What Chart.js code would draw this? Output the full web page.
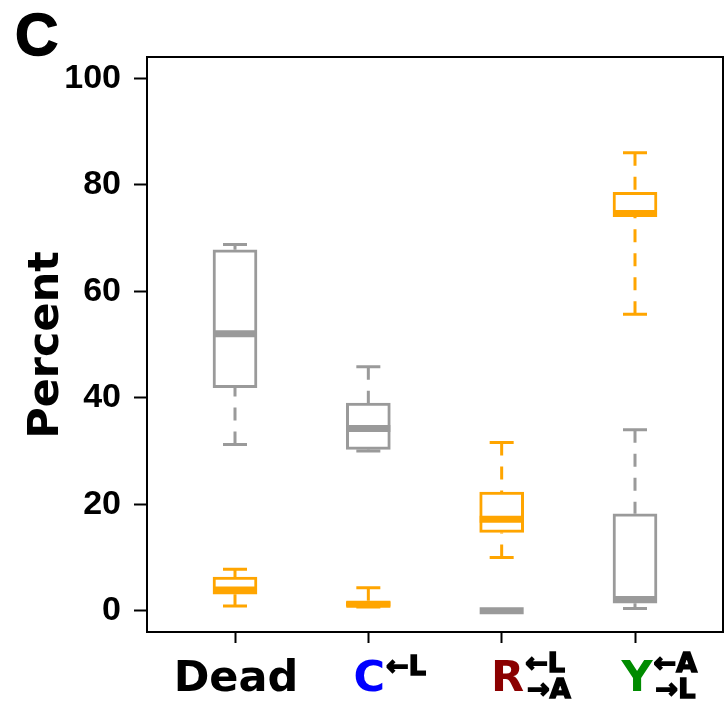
<!DOCTYPE html>
<html><head><meta charset="utf-8">
<script src="https://cdn.jsdelivr.net/npm/chart.js@4/dist/chart.umd.min.js"></script>
<style>html,body{margin:0;padding:0;background:#fff;} canvas{display:block;}</style>
</head><body>
<canvas id="c" width="725" height="707"></canvas>
<script>
// ---- data ----
const categories = ['Dead', 'C', 'R', 'Y'];
const categoryPositions = [1, 2, 3, 4];
const yTicks = [0, 20, 40, 60, 80, 100];

// gray series (five-number summaries)
const grayMin = [31.2, 30.0, 0.0, 0.4];
const grayQ1  = [41.9, 30.3, 0.0, 1.4];
const grayMed = [52.0, 34.2, 0.0, 2.1];
const grayQ3  = [67.8, 39.0, 0.0, 18.2];
const grayMax = [68.8, 45.8, 0.0, 34.0];

// orange series
const orangeMin = [0.9, 0.7, 10.0, 55.7];
const orangeQ1  = [3.1, 0.8, 14.7, 74.0];
const orangeMed = [3.9, 1.2, 17.2, 74.6];
const orangeQ3  = [6.3, 1.7, 22.3, 78.6];
const orangeMax = [7.8, 4.3, 31.6, 86.0];

// label decorations
const labelColors = ['#000000', '#0000FF', '#8B0000', '#008B00'];
const labelSupTop = ['', '\u2190L', '\u2190L', '\u2190A'];
const labelSupBottom = ['', '', '\u2192A', '\u2192L'];

const GRAY = '#9A9A9A';
const ORANGE = '#FFA500';
const BOX_W = 44;
const CAP_W = 24;

const series = [
  {color: GRAY, min: grayMin, q1: grayQ1, med: grayMed, q3: grayQ3, max: grayMax},
  {color: ORANGE, min: orangeMin, q1: orangeQ1, med: orangeMed, q3: orangeQ3, max: orangeMax}
];

function boxData(q1, q3) {
  return categoryPositions.map((x, i) => ({x: x, y: [q1[i], q3[i]]}));
}

const extras = {
  id: 'extras',
  beforeDatasetsDraw(chart) {
    const {ctx, scales: {x, y}} = chart;
    ctx.save();
    series.forEach(s => {
      ctx.strokeStyle = s.color;
      ctx.lineWidth = 3;
      categoryPositions.forEach((pos, i) => {
        const cx = x.getPixelForValue(pos);
        const pMin = y.getPixelForValue(s.min[i]);
        const pMax = y.getPixelForValue(s.max[i]);
        const pQ1 = y.getPixelForValue(s.q1[i]);
        const pQ3 = y.getPixelForValue(s.q3[i]);
        ctx.setLineDash([13, 11]);
        ctx.lineCap = 'butt';
        ctx.beginPath();
        ctx.moveTo(cx, pMin); ctx.lineTo(cx, pQ1);
        ctx.moveTo(cx, pMax); ctx.lineTo(cx, pQ3);
        ctx.stroke();
        ctx.setLineDash([]);
        ctx.beginPath();
        ctx.moveTo(cx - CAP_W / 2, pMin); ctx.lineTo(cx + CAP_W / 2, pMin);
        ctx.moveTo(cx - CAP_W / 2, pMax); ctx.lineTo(cx + CAP_W / 2, pMax);
        ctx.stroke();
      });
    });
    ctx.restore();
  },
  afterDatasetsDraw(chart) {
    const {ctx, scales: {x, y}} = chart;
    ctx.save();
    series.forEach(s => {
      ctx.strokeStyle = s.color;
      ctx.lineWidth = 7;
      ctx.lineCap = 'butt';
      categoryPositions.forEach((pos, i) => {
        const cx = x.getPixelForValue(pos);
        const pm = y.getPixelForValue(s.med[i]);
        ctx.beginPath();
        ctx.moveTo(cx - BOX_W / 2, pm); ctx.lineTo(cx + BOX_W / 2, pm);
        ctx.stroke();
      });
    });
    ctx.restore();
  },
  afterDraw(chart) {
    const {ctx, chartArea: a, scales: {x}} = chart;
    ctx.save();
    // frame
    ctx.strokeStyle = '#000';
    ctx.lineWidth = 2;
    ctx.strokeRect(a.left, a.top, a.right - a.left, a.bottom - a.top);
    // panel letter
    ctx.fillStyle = '#000';
    ctx.strokeStyle = '#000';
    ctx.font = 'bold 60px "Liberation Sans"';
    ctx.textAlign = 'left';
    ctx.textBaseline = 'alphabetic';
    ctx.lineWidth = 1.5;
    ctx.fillText('C', 15, 55);
    ctx.strokeText('C', 15, 55);
    // y title
    ctx.save();
    ctx.translate(58, 345);
    ctx.rotate(-Math.PI / 2);
    ctx.font = 'bold 43px "DejaVu Sans"';
    ctx.textAlign = 'center';
    ctx.fillText('Percent', 0, 0);
    ctx.restore();
    // x labels
    const shifts = [1, 1, 6, 2];
    categories.forEach((cat, i) => {
      const cx = x.getPixelForValue(categoryPositions[i]) + shifts[i];
      ctx.font = 'bold 43px "DejaVu Sans"';
      ctx.fillStyle = labelColors[i];
      ctx.textAlign = 'center';
      ctx.fillText(cat, cx, 691);
      const w = ctx.measureText(cat).width;
      const sx = cx + w / 2 + 1;
      ctx.fillStyle = '#000';
      ctx.strokeStyle = '#000';
      ctx.lineWidth = 1.6;
      ctx.font = 'bold 27px "DejaVu Sans"';
      ctx.textAlign = 'left';
      if (labelSupTop[i]) {
        const yb = labelSupBottom[i] ? 672 : 675;
        ctx.fillText(labelSupTop[i], sx, yb);
        ctx.strokeText(labelSupTop[i], sx, yb);
      }
      if (labelSupBottom[i]) {
        ctx.fillText(labelSupBottom[i], sx + 2, 698);
        ctx.strokeText(labelSupBottom[i], sx + 2, 698);
      }
    });
    ctx.restore();
  }
};

new Chart(document.getElementById('c'), {
  type: 'bar',
  data: {
    datasets: series.map(s => ({
      data: boxData(s.q1, s.q3),
      backgroundColor: '#FFFFFF',
      borderColor: s.color,
      borderWidth: 3,
      borderSkipped: false,
      barThickness: BOX_W,
      grouped: false
    }))
  },
  options: {
    responsive: false,
    animation: false,
    devicePixelRatio: 1,
    layout: {padding: {top: 57, right: 2, left: 0, bottom: 0}},
    plugins: {legend: {display: false}, tooltip: {enabled: false}},
    scales: {
      x: {
        type: 'linear',
        min: 0.34, max: 4.66,
        offset: false,
        afterBuildTicks: s => { s.ticks = categoryPositions.map(v => ({value: v})); },
        afterFit: s => { s.height = 75; },
        ticks: {callback: () => '', autoSkip: false, maxRotation: 0},
        grid: {offset: false, drawOnChartArea: false, drawTicks: true, tickLength: 11, tickWidth: 2, tickColor: '#000'},
        border: {display: false}
      },
      y: {
        type: 'linear',
        min: -4, max: 104,
        afterBuildTicks: s => { s.ticks = yTicks.map(v => ({value: v})); },
        afterFit: s => { s.width = 147; },
        ticks: {
          color: '#000',
          padding: 13,
          font: {family: '"Liberation Sans"', weight: 'bold', size: 34}
        },
        grid: {drawOnChartArea: false, drawTicks: true, tickLength: 13, tickWidth: 2, tickColor: '#000'},
        border: {display: false}
      }
    }
  },
  plugins: [extras]
});
</script>
</body></html>
